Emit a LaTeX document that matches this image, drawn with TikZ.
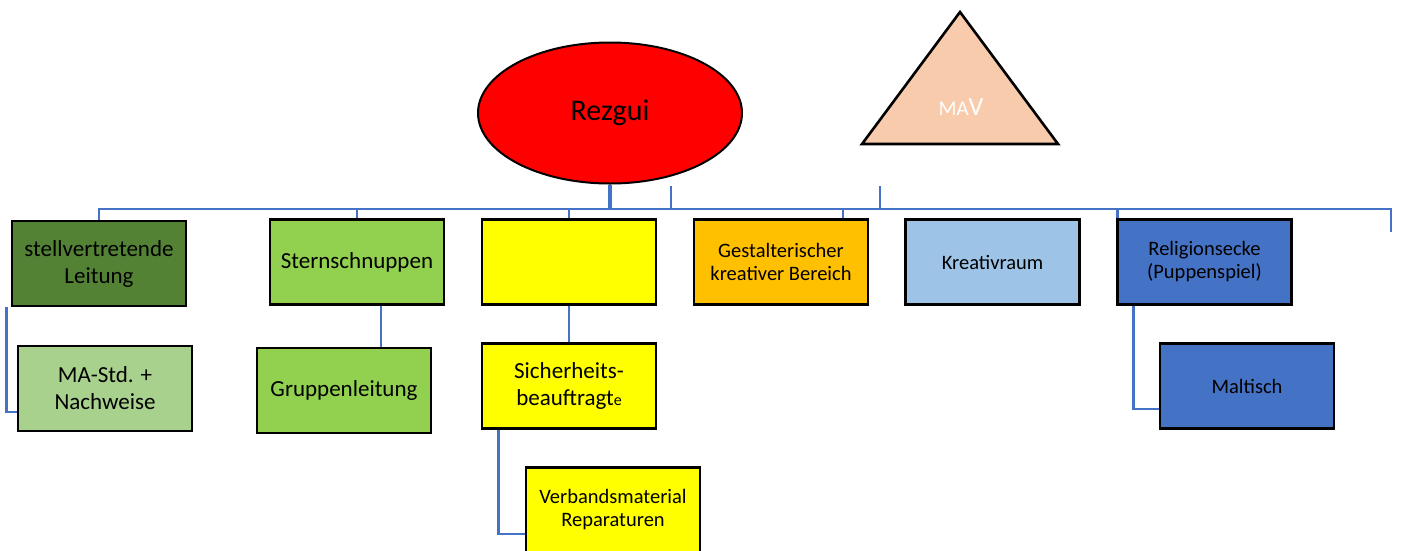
\documentclass[tikz,border=0pt]{standalone}
\usepackage{fontspec}
\setmainfont{Carlito}
\usetikzlibrary{shapes.geometric,calc}
\definecolor{linkblue}{HTML}{4472C4}
\definecolor{darkgreen}{HTML}{548235}
\definecolor{lightgreen}{HTML}{92D050}
\definecolor{palegreen}{HTML}{A9D18E}
\definecolor{brightyellow}{HTML}{FFFF00}
\definecolor{amber}{HTML}{FFC000}
\definecolor{skyblue}{HTML}{9DC3E6}
\definecolor{midblue}{HTML}{4472C4}
\definecolor{peach}{HTML}{F8CBAD}
\begin{document}
\begin{tikzpicture}[x=1pt,y=-1pt,
  box/.style={draw=black,line width=2.6pt,minimum width=174pt,minimum height=85pt,
              inner sep=0pt,align=center,text=black},
  big/.style={font=\fontsize{23}{27}\selectfont},
  small/.style={font=\fontsize{20.5}{23}\selectfont},
  link/.style={draw=linkblue,line width=2.8pt},
]
\useasboundingbox (0,0) rectangle (1402,550);

% head of the organisation
\node[ellipse,draw=black,line width=2pt,fill=red,minimum width=264pt,minimum height=141pt,
      inner sep=0pt,font=\fontsize{30}{30}\selectfont] (rez) at (610,113) {Rezgui};

% staff council triangle
\coordinate (apex) at (960,12);
\coordinate (baseL) at (862,144);
\coordinate (baseR) at (1058,144);
\draw[line width=2.6pt,fill=peach,line join=miter] (apex) -- (baseL) -- (baseR) -- cycle;
\node[text=white,font=\fontsize{26}{26}\selectfont] (mav) at (961,107) {{\fontsize{21}{21}\selectfont MA}V};

% first level
\node[box,fill=darkgreen,big]    (b1) at (99,263.5) {stellvertretende\\Leitung};
\node[box,fill=lightgreen,big]   (b2) at (357,262) {Sternschnuppen};
\node[box,fill=brightyellow]     (b3) at (569,262) {};
\node[box,fill=amber,small]      (b4) at (781,262) {Gestalterischer\\kreativer Bereich};
\node[box,fill=skyblue,small]    (b5) at (992.5,262) {Kreativraum};
\node[box,fill=midblue,small]    (b6) at (1204.5,262) {Religionsecke\\(Puppenspiel)};

% second and third level
\node[box,fill=palegreen,big]    (c1) at (105,388.5) {MA-Std. +\\Nachweise};
\node[box,fill=lightgreen,big]   (c2) at (344,390.5) {Gruppenleitung};
\node[box,fill=brightyellow,big] (c3) at (569,386) {Sicherheits-\\beauftragt{\fontsize{16}{16}\selectfont e}};
\node[box,fill=brightyellow,small] (c4) at (613,510) {Verbandsmaterial\\Reparaturen};
\node[box,fill=midblue,small]    (c5) at (1247,386) {Maltisch};

% bus line
\coordinate (busR) at (1391,209);
\coordinate (busEnd) at (1391,232);
\coordinate (tickA) at (671,186);
\coordinate (tickB) at (880,186);
\draw[link] (b1.north) |- (busR) -- (busEnd);
\draw[link,line width=4pt] (rez.south) -- (rez.south |- busR);
\draw[link] (tickA) -- (tickA |- busR);
\draw[link] (tickB) -- (tickB |- busR);
\draw[link] (b2.north) -- (b2.north |- busR);
\draw[link] (b3.north) -- (b3.north |- busR);
\draw[link] ($(b4.north)+(62,0)$) -- ($(b4.north |- busR)+(62,0)$);
\draw[link] ($(b6.north west)+(1,0)$) -- ($(b6.north west |- busR)+(1,0)$);

% branches below
\draw[link] ($(b1.south west)+(-4,0)$) |- ($(c1.west)+(0,23.5)$);
\draw[link] ($(b2.south)+(24,0)$) -- ($(b2.south |- c2.north)+(24,0)$);
\draw[link] (b3.south) -- (c3.north);
\draw[link] ($(c3.south west)+(18,0)$) |- ($(c4.west)+(0,24)$);
\draw[link] ($(b6.south west)+(17,0)$) |- ($(c5.west)+(0,23)$);
\end{tikzpicture}
\end{document}
